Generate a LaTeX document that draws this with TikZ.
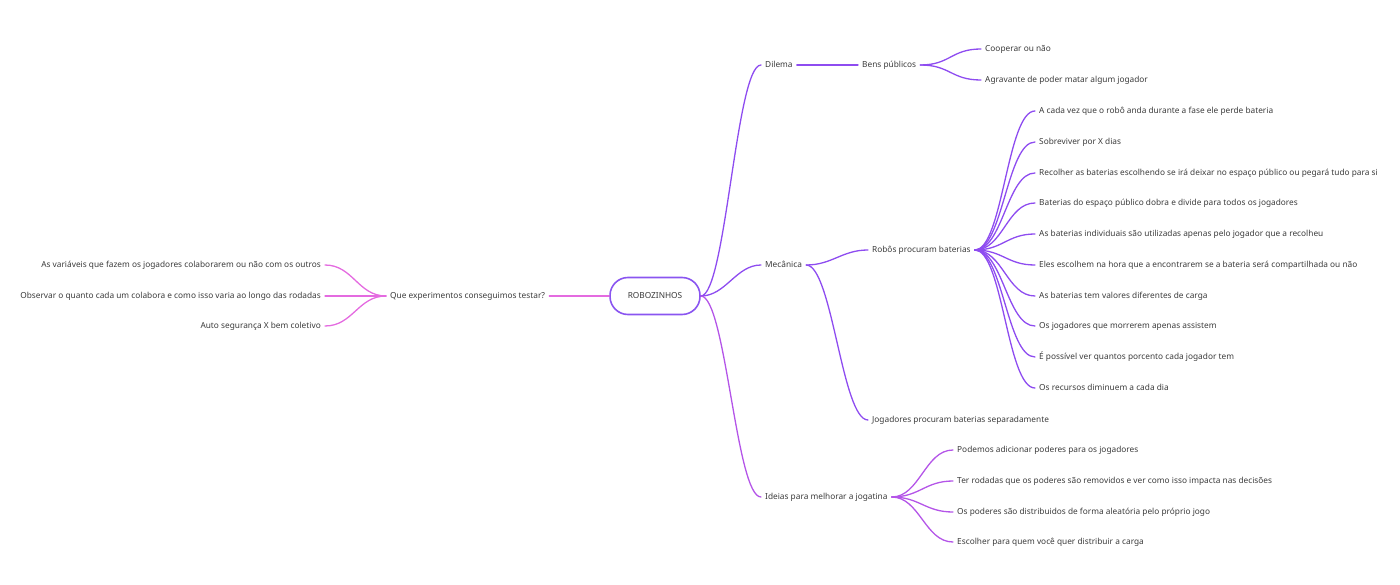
\documentclass[tikz,border=0pt]{standalone}
\usepackage{fontspec}
\setmainfont{Noto Sans}
\definecolor{txt}{HTML}{3A3A3A}
\definecolor{viol}{HTML}{8E4CF0}
\definecolor{purp}{HTML}{B455E8}
\definecolor{pinkc}{HTML}{E46BE0}
\definecolor{rootc}{HTML}{8A55F0}
\begin{document}
\begin{tikzpicture}[x=1pt,y=-1pt,
  lbl/.style={inner xsep=4pt,inner ysep=2pt,font=\fontsize{8.3}{9}\selectfont,text=txt},
  lw/.style={lbl,anchor=mid west},
  le/.style={lbl,anchor=mid east},
  con/.style={line width=1.3pt,line cap=round},
  cv/.style={con,viol},
  cp/.style={con,purp},
  ck/.style={con,pinkc}]
\useasboundingbox (0,0) rectangle (1400,585);
% root
\node[draw=rootc,line width=1.6pt,rounded corners=18pt,minimum width=90pt,minimum height=37pt,
  font=\fontsize{8.3}{9}\selectfont,text=txt] (root) at (655,296) {ROBOZINHOS};
% left
\node[lw] (que) at (386,296) {Que experimentos conseguimos testar?};
\node[le] (l1) at (325,265) {As variáveis que fazem os jogadores colaborarem ou não com os outros};
\node[le] (l2) at (325,296) {Observar o quanto cada um colabora e como isso varia ao longo das rodadas};
\node[le] (l3) at (325,326) {Auto segurança X bem coletivo};
\draw[ck] (root.west) -- (que.mid east);
\foreach \n in {l1,l2,l3}
  \draw[ck] (que.mid west) .. controls +(-28,0) and +(28,0) .. (\n.mid east);
% Dilema
\node[lw] (dil) at (761,65) {Dilema};
\node[lw] (bens) at (858,65) {Bens públicos};
\node[lw] (coop) at (981,49) {Cooperar ou não};
\node[lw] (agra) at (981,80) {Agravante de poder matar algum jogador};
\draw[cv] (root.east) .. controls +(25,0) and +(-25,0) .. (dil.mid west);
\draw[cv] (dil.mid east) -- (bens.mid west);
\draw[cv] (bens.mid east) .. controls +(30,0) and +(-30,0) .. (coop.mid west);
\draw[cv] (bens.mid east) .. controls +(30,0) and +(-30,0) .. (agra.mid west);
% Mecanica
\node[lw] (mec) at (761,265) {Mecânica};
\node[lw] (rob) at (868,250) {Robôs procuram baterias};
\node[lw] (jog) at (868,420) {Jogadores procuram baterias separadamente};
\draw[cv] (root.east) .. controls +(25,0) and +(-25,0) .. (mec.mid west);
\draw[cv] (mec.mid east) .. controls +(26,0) and +(-26,0) .. (rob.mid west);
\draw[cv] (mec.mid east) .. controls +(26,0) and +(-26,0) .. (jog.mid west);
\node[lw] (r1) at (1035,111) {A cada vez que o robô anda durante a fase ele perde bateria};
\node[lw] (r2) at (1035,142) {Sobreviver por X dias};
\node[lw] (r3) at (1035,173) {Recolher as baterias escolhendo se irá deixar no espaço público ou pegará tudo para si};
\node[lw] (r4) at (1035,203) {Baterias do espaço público dobra e divide para todos os jogadores};
\node[lw] (r5) at (1035,234) {As baterias individuais são utilizadas apenas pelo jogador que a recolheu};
\node[lw] (r6) at (1035,265) {Eles escolhem na hora que a encontrarem se a bateria será compartilhada ou não};
\node[lw] (r7) at (1035,296) {As baterias tem valores diferentes de carga};
\node[lw] (r8) at (1035,326) {Os jogadores que morrerem apenas assistem};
\node[lw] (r9) at (1035,357) {É possível ver quantos porcento cada jogador tem};
\node[lw] (r10) at (1035,388) {Os recursos diminuem a cada dia};
\foreach \n in {r1,r2,r3,r4,r5,r6,r7,r8,r9,r10}
  \draw[cv] (rob.mid east) .. controls +(28,0) and +(-28,0) .. (\n.mid west);
% Ideias
\node[lw] (ide) at (761,497) {Ideias para melhorar a jogatina};
\draw[cp] (root.east) .. controls +(25,0) and +(-25,0) .. (ide.mid west);
\node[lw] (i1) at (953,450) {Podemos adicionar poderes para os jogadores};
\node[lw] (i2) at (953,481) {Ter rodadas que os poderes são removidos e ver como isso impacta nas decisões};
\node[lw] (i3) at (953,512) {Os poderes são distribuidos de forma aleatória pelo próprio jogo};
\node[lw] (i4) at (953,542) {Escolher para quem você quer distribuir a carga};
\foreach \n in {i1,i2,i3,i4}
  \draw[cp] (ide.mid east) .. controls +(28,0) and +(-28,0) .. (\n.mid west);
\end{tikzpicture}
\end{document}
